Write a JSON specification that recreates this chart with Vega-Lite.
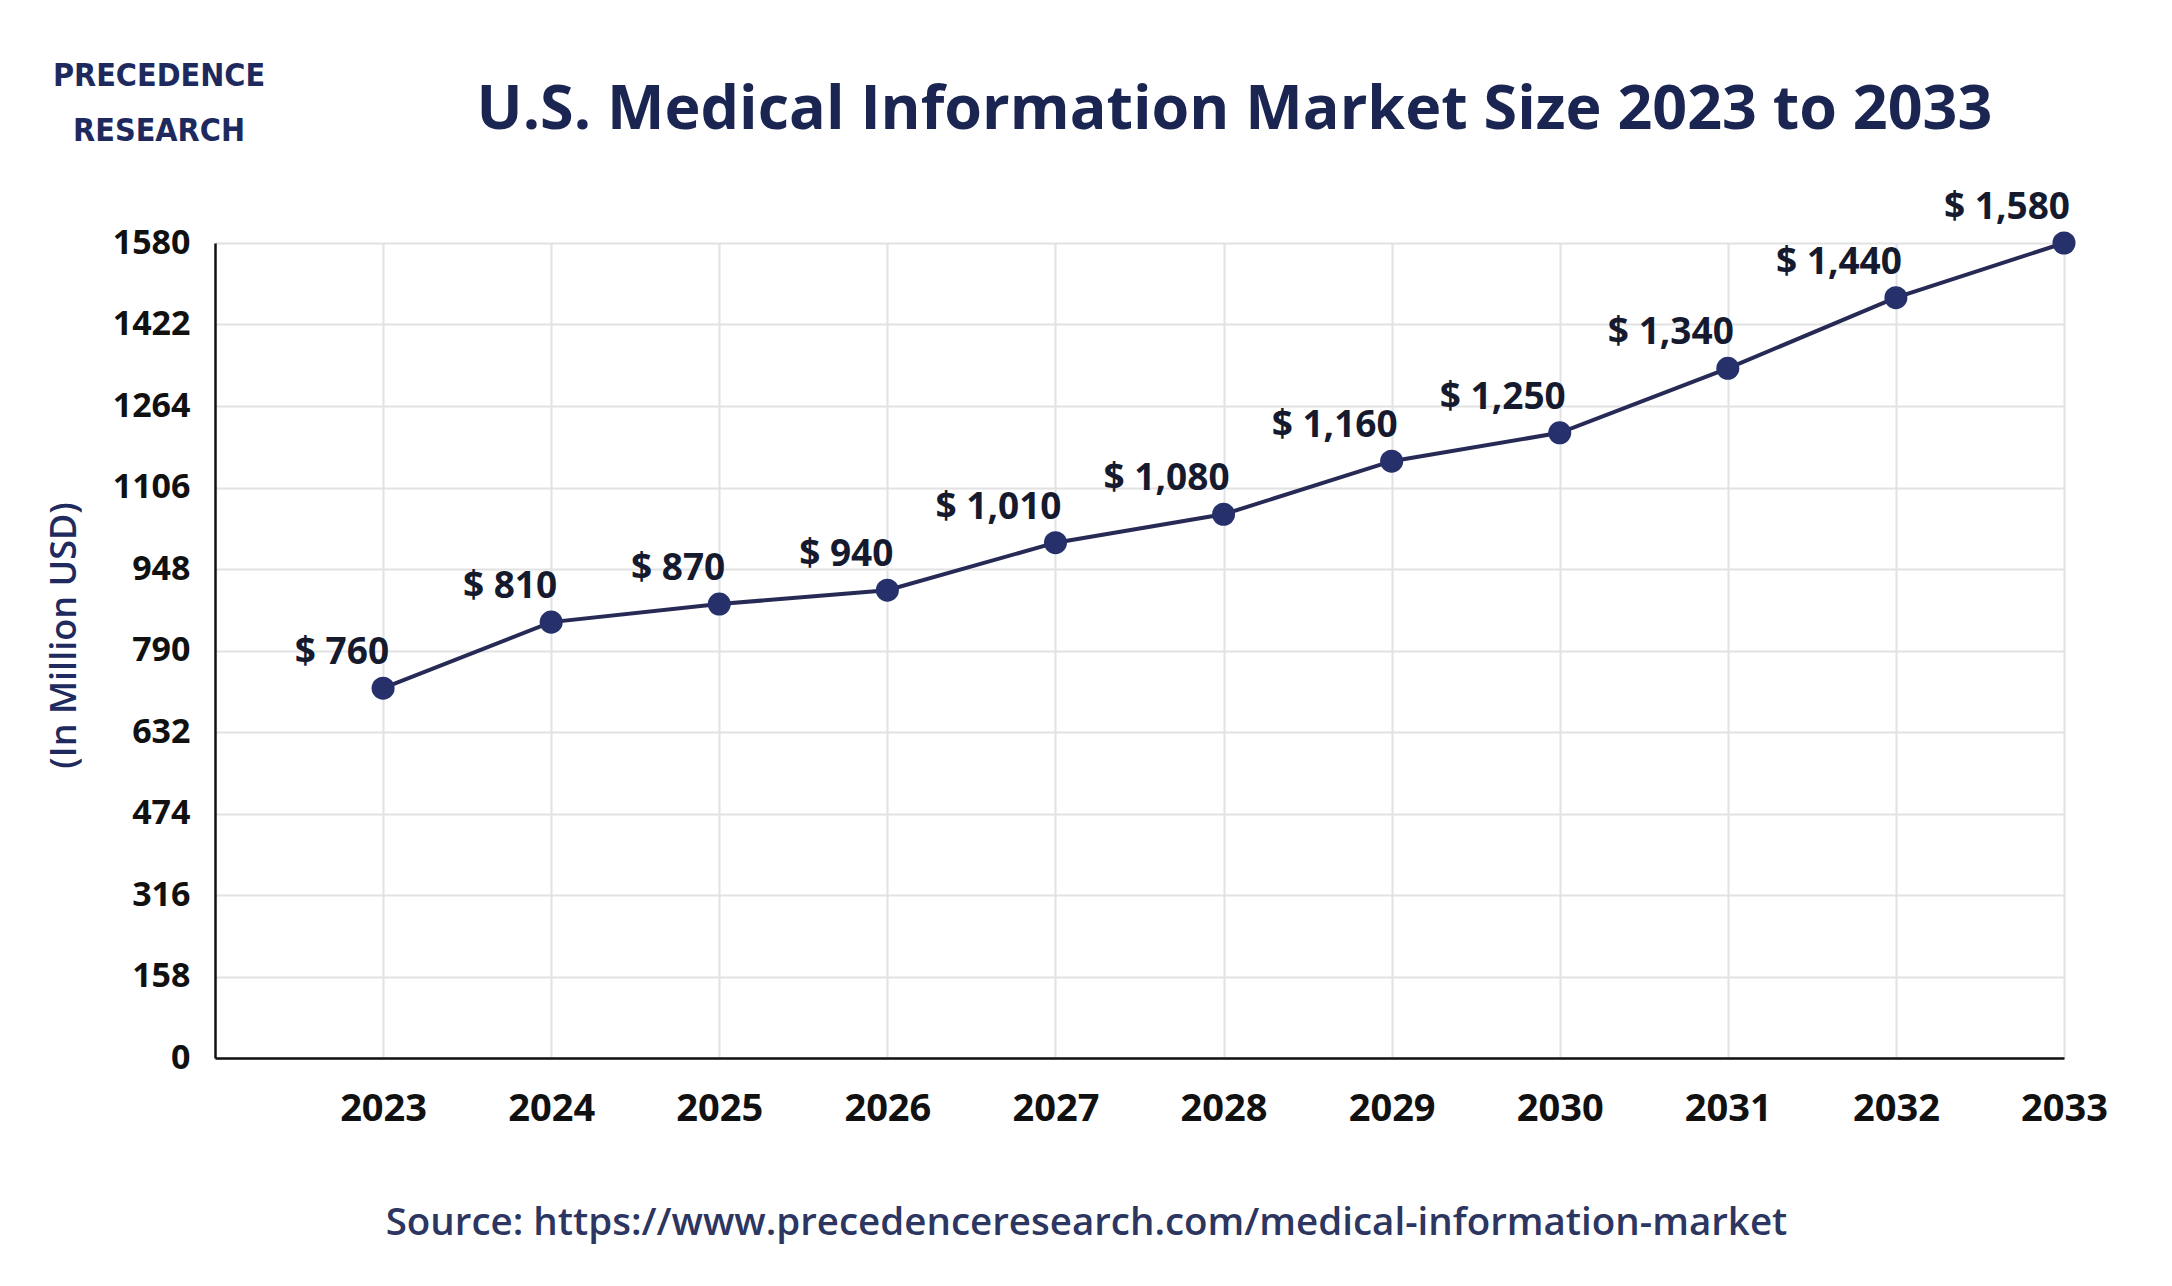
{
  "$schema": "https://vega.github.io/schema/vega-lite/v6.json",
  "width": 1849,
  "height": 815,
  "autosize": {"type": "none"},
  "padding": {"left": 215, "top": 243, "right": 108, "bottom": 228},
  "background": "#ffffff",
  "config": {
    "view": {"stroke": null},
    "font": "Open Sans"
  },
  "datasets": {
    "market": [
      {"year": 2023, "size": 717, "label": "$ 760"},
      {"year": 2024, "size": 845, "label": "$ 810"},
      {"year": 2025, "size": 880, "label": "$ 870"},
      {"year": 2026, "size": 907, "label": "$ 940"},
      {"year": 2027, "size": 999, "label": "$ 1,010"},
      {"year": 2028, "size": 1054, "label": "$ 1,080"},
      {"year": 2029, "size": 1157, "label": "$ 1,160"},
      {"year": 2030, "size": 1212, "label": "$ 1,250"},
      {"year": 2031, "size": 1337, "label": "$ 1,340"},
      {"year": 2032, "size": 1474, "label": "$ 1,440"},
      {"year": 2033, "size": 1580, "label": "$ 1,580"}
    ]
  },
  "data": {"name": "market"},
  "resolve": {"axis": {"x": "independent", "y": "independent"}},
  "layer": [
    {
      "mark": {"type": "line", "color": "#262a55", "strokeWidth": 4},
      "encoding": {
        "x": {
          "field": "year",
          "type": "quantitative",
          "scale": {"domain": [2022, 2033], "nice": false, "zero": false},
          "axis": {
            "values": [2023, 2024, 2025, 2026, 2027, 2028, 2029, 2030, 2031, 2032, 2033],
            "format": "d",
            "labelFlush": false,
            "grid": true,
            "gridColor": "#e2e2e4",
            "gridWidth": 2,
            "domain": true,
            "domainColor": "#111111",
            "domainWidth": 2.5,
            "ticks": false,
            "tickSize": 0,
            "labelPadding": 32,
            "labelFont": "Open Sans",
            "labelFontSize": 38,
            "labelFontWeight": "bold",
            "labelColor": "#111111",
            "title": "Source: https://www.precedenceresearch.com/medical-information-market",
            "titleX": 871,
            "titleY": 176,
            "titleAlign": "center",
            "titleBaseline": "alphabetic",
            "titleFont": "Open Sans",
            "titleFontSize": 38.5,
            "titleFontWeight": 600,
            "titleColor": "#2d3561"
          }
        },
        "y": {
          "field": "size",
          "type": "quantitative",
          "scale": {"domain": [0, 1580], "nice": false},
          "axis": {
            "values": [0, 158, 316, 474, 632, 790, 948, 1106, 1264, 1422, 1580],
            "format": "d",
            "grid": true,
            "gridColor": "#e2e2e4",
            "gridWidth": 2,
            "domain": true,
            "domainColor": "#111111",
            "domainWidth": 2.5,
            "ticks": false,
            "tickSize": 0,
            "labelPadding": 25,
            "labelFont": "Open Sans",
            "labelFontSize": 34,
            "labelFontWeight": "bold",
            "labelColor": "#111111",
            "title": "(In Million USD)",
            "titleX": -151,
            "titleY": 392,
            "titleAngle": -90,
            "titleAlign": "center",
            "titleBaseline": "middle",
            "titleFont": "Open Sans",
            "titleFontSize": 36,
            "titleFontWeight": 600,
            "titleColor": "#1f2a5e"
          }
        }
      }
    },
    {
      "mark": {"type": "point", "filled": true, "shape": "circle", "size": 530, "color": "#26306a", "opacity": 1},
      "encoding": {
        "x": {
          "field": "year",
          "type": "quantitative",
          "scale": {"domain": [2022, 2033], "nice": false, "zero": false},
          "axis": {
            "orient": "top",
            "labels": false,
            "ticks": false,
            "domain": false,
            "grid": false,
            "title": "U.S. Medical Information Market Size 2023 to 2033",
            "titleX": 1019,
            "titleY": -115,
            "titleAlign": "center",
            "titleBaseline": "alphabetic",
            "titleAngle": 0,
            "titleFont": "Open Sans",
            "titleFontSize": 61,
            "titleFontWeight": "bold",
            "titleColor": "#1b2552"
          }
        },
        "y": {
          "field": "size",
          "type": "quantitative",
          "scale": {"domain": [0, 1580], "nice": false},
          "axis": {
            "orient": "right",
            "labels": false,
            "ticks": false,
            "domain": false,
            "grid": false,
            "title": ["PRECEDENCE", "RESEARCH"],
            "titleX": -1905.5,
            "titleY": -158,
            "titleAlign": "center",
            "titleBaseline": "alphabetic",
            "titleAngle": 0,
            "titleLineHeight": 55,
            "titleFont": "DejaVu Sans Condensed, Roboto, sans-serif",
            "titleFontSize": 32,
            "titleFontWeight": "bold",
            "titleColor": "#1e2a5e"
          }
        }
      }
    },
    {
      "mark": {"type": "text", "align": "right", "baseline": "alphabetic", "dx": 6, "dy": -24, "font": "Open Sans", "fontSize": 37, "fontWeight": "bold", "color": "#161a2e"},
      "encoding": {
        "x": {"field": "year", "type": "quantitative", "scale": {"domain": [2022, 2033], "nice": false, "zero": false}, "axis": null},
        "y": {"field": "size", "type": "quantitative", "scale": {"domain": [0, 1580], "nice": false}, "axis": null},
        "text": {"field": "label", "type": "nominal"}
      }
    }
  ]
}
